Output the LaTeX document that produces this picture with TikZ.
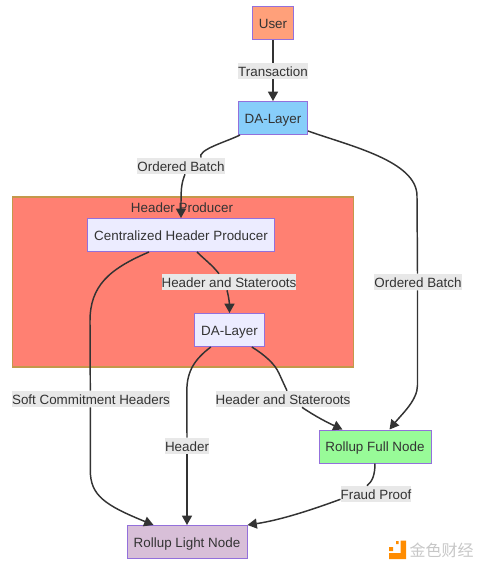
\documentclass[tikz,border=0pt]{standalone}
\usepackage{fontspec}
\setmainfont{Liberation Sans}
\newfontfamily\cjkfont{Noto Sans CJK SC}
\usetikzlibrary{arrows.meta}
\definecolor{inkgray}{HTML}{333333}
\definecolor{boxedge}{HTML}{9370DB}
\definecolor{groupedge}{HTML}{C4984A}
\tikzset{
  block/.style={draw=boxedge, line width=0.75pt, text=inkgray, inner sep=0pt, minimum height=24.75pt, text height=7.8pt, text depth=0pt, font=\fontsize{10.05}{12}\selectfont},
  edgelabel/.style={fill=black!9, text=inkgray, inner sep=0pt, minimum height=12pt, text height=7.8pt, text depth=0pt, font=\fontsize{10.05}{12}\selectfont},
  flow/.style={draw=inkgray, line width=1.1pt},
  flowend/.style={flow, -{Triangle[length=7pt,width=7.5pt]}},
}

\begin{document}
\begin{tikzpicture}[x=0.75pt,y=-0.75pt]
  \useasboundingbox (0,0) rectangle (485,569);
  % subgraph
  \node[draw=groupedge, line width=0.9pt, fill={rgb,255:red,255;green,128;blue,114}, inner sep=0pt, minimum width=255.5pt, minimum height=127.5pt] (producerbox) at (182.8,282) {};
  \node[text=inkgray, text height=7.8pt, text depth=0pt, font=\fontsize{10.05}{12}\selectfont] (producertitle) at (182,207.5) {Header Producer};
  % nodes
  \node[block, fill={rgb,255:red,255;green,160;blue,122}, minimum width=30.75pt] (user) at (273,23) {User};
  \node[block, fill={rgb,255:red,135;green,206;blue,250}, minimum width=51.75pt] (topda) at (273,118) {DA-Layer};
  \node[block, fill={rgb,255:red,236;green,236;blue,255}, minimum width=140.25pt] (central) at (181,235) {Centralized Header Producer};
  \node[block, fill={rgb,255:red,236;green,236;blue,255}, minimum width=52pt] (innerda) at (229.5,330) {DA-Layer};
  \node[block, fill={rgb,255:red,152;green,251;blue,152}, minimum width=84pt] (fullnode) at (375,446.5) {Rollup Full Node};
  \node[block, fill={rgb,255:red,216;green,191;blue,216}, minimum width=90pt] (lightnode) at (187,542) {Rollup Light Node};
  % edge labels
  \node[edgelabel] (txlabel) at (273,71) {Transaction};
  \node[edgelabel] (batchleft) at (181,166) {Ordered Batch};
  \node[edgelabel] (batchright) at (418,282) {Ordered Batch};
  \node[edgelabel] (hsupper) at (229,282) {Header and Stateroots};
  \node[edgelabel] (softlabel) at (91,399) {Soft Commitment Headers};
  \node[edgelabel] (headerlabel) at (187,446) {Header};
  \node[edgelabel] (hslower) at (283,399) {Header and Stateroots};
  \node[edgelabel] (fraudlabel) at (376,494) {Fraud Proof};
  % connectors
  \draw[flow] (user) -- (txlabel);
  \draw[flowend] (txlabel) -- (topda);
  \draw[flow] ([shift={(2,0)}]topda.south west) .. controls ++(-14,7) and ++(-4,-8) .. ([shift={(20,0)}]batchleft.north);
  \draw[flowend] ([shift={(4,0)}]batchleft.south) .. controls ++(-4,10) and ++(0,-28) .. (central.north);
  \draw[flow] ([shift={(0,-4)}]topda.south east) .. controls ++(42,15) and ++(0,-35) .. ++(109,65) -- ([shift={(-0.5,0)}]batchright.north);
  \draw[flowend] ([shift={(-0.5,0)}]batchright.south) -- ++(0,95) .. controls ++(0,15) and ++(12,-15) .. ([shift={(71,0)}]fullnode.north west);
  \draw[flow] ([shift={(62,0)}]central.south west) .. controls ++(-40,17) and ++(0,-35) .. ++(-59,69) -- ([shift={(-0.7,0)}]softlabel.north);
  \draw[flowend] ([shift={(-0.7,0)}]softlabel.south) -- ++(0,63) .. controls ++(0,25) and ++(-49,-20) .. ([shift={(27,0)}]lightnode.north west);
  \draw[flow] ([shift={(110,0)}]central.south west) .. controls ++(7,7) and ++(-7,-9) .. ([shift={(-10,0)}]hsupper.north);
  \draw[flowend] ([shift={(-2,0)}]hsupper.south) .. controls ++(2,7) and ++(0,-8) .. (innerda.north);
  \draw[flow] ([shift={(16.5,0)}]innerda.south west) .. controls ++(-16,12) and ++(0,-20) .. ++(-24,44) -- (headerlabel.north);
  \draw[flowend] (headerlabel.south) -- (lightnode.north);
  \draw[flow] ([shift={(57.5,0)}]innerda.south west) .. controls ++(13,8) and ++(-4,-9) .. ++(27,26) -- ([shift={(4,0)}]hslower.north);
  \draw[flowend] ([shift={(19,0)}]hslower.south) .. controls ++(13,9) and ++(-15,-7) .. ([shift={(24,0)}]fullnode.north west);
  \draw[flow] (fullnode.south) .. controls ++(0,12) and ++(5,-4) .. ([shift={(-9,0)}]fraudlabel.north);
  \draw[flowend] ([shift={(-35.5,-3)}]fraudlabel.south) .. controls ++(-30,11) and ++(33,-5) .. (lightnode.north east);
  % watermark
  \fill[orange!90!yellow] (400.7,540.5) rectangle (406,559) (389,553) rectangle (406,559) (389,547) rectangle (393,551) (396,541) rectangle (398.5,544);
  \node[text=black!22, font=\cjkfont\fontsize{12}{12}\selectfont, inner sep=0pt] (watermark) at (441.5,550) {金色财经};
\end{tikzpicture}
\end{document}
